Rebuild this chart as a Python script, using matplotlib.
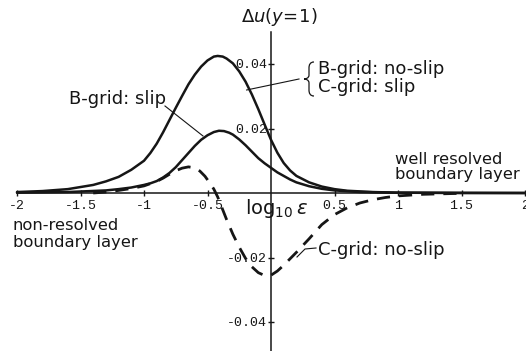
import numpy as np
import matplotlib
matplotlib.use("Agg")
import matplotlib.pyplot as plt
from matplotlib.path import Path
from matplotlib.patches import PathPatch

# Delta u at y = 1 against log10(epsilon)
x_upper = [-2.0, -1.8, -1.6, -1.4, -1.3, -1.2, -1.1, -1.0, -0.95, -0.9, -0.85,
           -0.8, -0.75, -0.7, -0.65, -0.6, -0.55, -0.5, -0.45, -0.42, -0.38,
           -0.35, -0.3, -0.25, -0.2, -0.15, -0.1, -0.05, 0.0, 0.05, 0.1, 0.15,
           0.2, 0.3, 0.4, 0.5, 0.6, 0.8, 1.0, 1.5, 2.0]
du_upper = [0.0003, 0.0006, 0.0012, 0.0025, 0.0036, 0.0050, 0.0072, 0.0100,
            0.0124, 0.0153, 0.0188, 0.0226, 0.0264, 0.0301, 0.0337, 0.0367,
            0.0392, 0.0411, 0.0423, 0.0425, 0.0423, 0.0417, 0.0402, 0.0377,
            0.0345, 0.0305, 0.0260, 0.0212, 0.0165, 0.0125, 0.0093, 0.0070,
            0.0053, 0.0033, 0.0020, 0.0012, 0.0007, 0.0003, 0.0001, 0.0, 0.0]

x_bslip = [-2.0, -1.6, -1.3, -1.2, -1.1, -1.0, -0.95, -0.9, -0.85, -0.8, -0.75,
           -0.7, -0.65, -0.6, -0.55, -0.5, -0.45, -0.41, -0.37, -0.33, -0.3,
           -0.25, -0.2, -0.15, -0.1, -0.05, 0.0, 0.05, 0.1, 0.15, 0.2, 0.3,
           0.4, 0.5, 0.7, 1.0, 2.0]
du_bslip = [0.0001, 0.0003, 0.0008, 0.0012, 0.0017, 0.0025, 0.0030, 0.0037,
            0.0048, 0.0062, 0.0080, 0.0102, 0.0124, 0.0146, 0.0165, 0.0179,
            0.0189, 0.0193, 0.0192, 0.0187, 0.0181, 0.0166, 0.0148, 0.0128,
            0.0108, 0.0092, 0.0078, 0.0064, 0.0053, 0.0042, 0.0033, 0.0021,
            0.0013, 0.0008, 0.0003, 0.0001, 0.0]

x_cnoslip = [-1.4, -1.3, -1.2, -1.1, -1.0, -0.9, -0.85, -0.8, -0.75, -0.7,
             -0.65, -0.6, -0.56, -0.52, -0.48, -0.45, -0.42, -0.39, -0.35,
             -0.3, -0.25, -0.2, -0.15, -0.1, -0.05, 0.0, 0.05, 0.1, 0.15, 0.2,
             0.25, 0.3, 0.35, 0.4, 0.5, 0.6, 0.7, 0.8, 0.9, 1.0, 1.2, 1.5]
du_cnoslip = [0.0, 0.0003, 0.0008, 0.0014, 0.0022, 0.0036, 0.0046, 0.0058,
              0.0069, 0.0077, 0.0081, 0.0078, 0.0068, 0.0052, 0.0030, 0.0012,
              -0.0012, -0.0042, -0.0082, -0.0128, -0.0168, -0.0203, -0.0229,
              -0.0247, -0.0256, -0.0255, -0.0242, -0.0224, -0.0204, -0.0184,
              -0.0163, -0.0142, -0.0120, -0.0098, -0.0067, -0.0046, -0.0031,
              -0.0021, -0.0014, -0.0009, -0.0004, -0.0001]

x_ticks = [-2, -1.5, -1, -0.5, 0.5, 1, 1.5, 2]
x_ticklabels = ["-2", "-1.5", "-1", "-0.5", "0.5", "1", "1.5", "2"]
y_ticks = [-0.04, -0.02, 0.02, 0.04]
y_ticklabels = ["-0.04", "-0.02", "0.02", "0.04"]

INK = "#161616"
W, H = 526, 351
X0, Y0 = 271.0, 193.0          # origin in pixels
SX, SY = 127.0, 64.5 / 0.02    # pixels per unit


def px(u, v):
    return (u - X0) / SX, (Y0 - v) / SY


plt.rcParams["font.family"] = ["DejaVu Sans"]
plt.rcParams["mathtext.fontset"] = "dejavusans"
plt.rcParams["lines.scale_dashes"] = False

fig = plt.figure(figsize=(W / 100, H / 100), dpi=100)
ax = fig.add_axes([0, 0, 1, 1])
x_lo, y_lo = px(0, H)
x_hi, y_hi = px(W, 0)
ax.set_xlim(x_lo, x_hi)
ax.set_ylim(y_lo, y_hi)

for side in ["top", "right"]:
    ax.spines[side].set_visible(False)
ax.spines["left"].set_position(("data", 0))
ax.spines["bottom"].set_position(("data", 0))
ax.spines["left"].set_bounds(y_lo, px(0, 32)[1])
ax.spines["bottom"].set_bounds(-2, 2)
for side in ["left", "bottom"]:
    ax.spines[side].set_linewidth(1.1)
    ax.spines[side].set_color(INK)

ax.set_xticks(x_ticks, x_ticklabels)
ax.set_yticks(y_ticks, y_ticklabels)
ax.tick_params(direction="inout", length=4.5, width=1.0, color=INK,
               labelcolor=INK)
ax.tick_params(axis="x", pad=2.8)
ax.tick_params(axis="y", pad=0.6)
for lab in ax.get_xticklabels() + ax.get_yticklabels():
    lab.set_fontfamily("Liberation Mono")
    lab.set_fontsize(9.5)

ax.plot(x_upper, du_upper, color=INK, lw=1.8, solid_capstyle="round",
        solid_joinstyle="round")
ax.plot(x_bslip, du_bslip, color=INK, lw=1.8, solid_capstyle="round",
        solid_joinstyle="round")
ax.plot(x_cnoslip, du_cnoslip, color=INK, lw=2.0, dashes=(9.5, 6.5),
        dash_capstyle="butt", dash_joinstyle="round")

# axis titles
ax.text(*px(279, 17), r"$\Delta u(y\!=\!1)$", fontsize=13, ha="center",
        va="center", color=INK)
ax.text(*px(245, 214), r"$\mathregular{log}_{10}\,\varepsilon$", fontsize=14,
        ha="left", va="baseline", color=INK)

# curve labels
lab_kw = dict(fontsize=13, ha="left", va="baseline", color=INK)
ax.text(*px(69, 104), "B-grid: slip", **lab_kw)
ax.text(*px(318, 73.5), "B-grid: no-slip", **lab_kw)
ax.text(*px(318, 92.5), "C-grid: slip", **lab_kw)
ax.text(*px(318, 255), "C-grid: no-slip", **lab_kw)

note_kw = dict(fontsize=11.8, ha="left", va="baseline", color=INK)
ax.text(*px(395, 163.5), "well resolved", **note_kw)
ax.text(*px(395, 179.5), "boundary layer", **note_kw)
ax.text(*px(13, 230.5), "non-resolved", **note_kw)
ax.text(*px(13, 246.5), "boundary layer", **note_kw)

# leader lines
leaders = [
    [(165, 106), (203, 136)],
    [(246.6, 90), (299, 79)],
    [(297, 257), (305, 249), (316, 248)],
]
for pts in leaders:
    xs, ys = zip(*[px(u, v) for u, v in pts])
    ax.plot(xs, ys, color=INK, lw=0.8)

# curly brace joining the two shared-curve labels
brace_px = [(314, 62), (310, 62), (309, 65), (309, 68), (309, 75),
            (309, 78), (306, 79), (304, 79), (306, 79), (309, 80),
            (309, 83), (309, 90), (309, 93), (310, 96), (314, 96)]
codes = [Path.MOVETO, Path.CURVE4, Path.CURVE4, Path.CURVE4, Path.LINETO,
         Path.CURVE4, Path.CURVE4, Path.CURVE4, Path.CURVE4, Path.CURVE4,
         Path.CURVE4, Path.LINETO, Path.CURVE4, Path.CURVE4, Path.CURVE4]
brace = Path([px(u, v) for u, v in brace_px], codes)
ax.add_patch(PathPatch(brace, facecolor="none", edgecolor=INK, lw=0.9))

fig.savefig("out.png", dpi=100)
